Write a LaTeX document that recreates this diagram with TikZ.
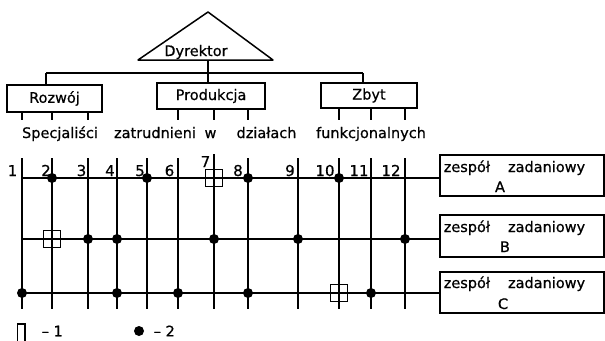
\documentclass[tikz,border=0pt]{standalone}
\usepackage{fontspec}
\setmainfont{DejaVu Sans}[FakeBold=0.6]
\begin{document}
\begin{tikzpicture}[x=1pt,y=-1pt,line width=1.5pt,
  lbl/.style={font=\fontsize{14.5}{16}\selectfont,inner sep=0pt},
  numlbl/.style={font=\fontsize{15}{16}\selectfont,inner sep=0pt},
  orgbox/.style={draw,rectangle,inner sep=0pt,font=\fontsize{14.5}{16}\selectfont},
  teambox/.style={draw,rectangle,inner sep=0pt,minimum width=164pt},
  dotmark/.style={circle,fill=black,draw=none,inner sep=0pt,minimum size=10pt},
  sqmark/.style={draw,rectangle,fill=none,inner sep=0pt,minimum size=17pt,line width=1.3pt}]
\useasboundingbox (0,0) rectangle (605,340);
\clip (0,0) rectangle (605,340);

% director
\coordinate (dirL) at (138,60);
\coordinate (dirR) at (273,60);
\coordinate (dirT) at (208,12);
\coordinate (dirB) at (208,60);
\draw[line join=round] (dirL) -- (dirT) -- (dirR) -- cycle;
\node[lbl,anchor=base] (dir) at (196,56) {Dyrektor};

% distribution bar
\coordinate (barL) at (46,73);
\coordinate (barM) at (208,73);
\coordinate (barR) at (363,73);
\draw (barL) -- (barR);
\draw (dirB) -- (barM);

% departments
\node[orgbox,minimum width=95pt,minimum height=27pt] (rozwoj) at (54.5,98.5) {Rozwój};
\node[orgbox,minimum width=108pt,minimum height=26pt] (produkcja) at (211,96) {Produkcja};
\node[orgbox,minimum width=96pt,minimum height=25pt] (zbyt) at (369,95.5) {Zbyt};
\draw (barL) -- (barL |- rozwoj.north);
\draw (barM) -- (barM |- produkcja.north);
\draw (barR) -- (barR |- zbyt.north);

% specialists columns
\foreach \i/\x in {1/22,2/52,3/88,4/117,5/147,6/178,8/248,9/298,10/339,11/371,12/405}{
  \coordinate (t\i) at (\x,158);
  \coordinate (b\i) at (\x,309);
}
\coordinate (t7) at (214,154);
\coordinate (b7) at (214,309);
\foreach \i in {1,...,12} \draw (t\i) -- (b\i);

% short ticks below the departments
\coordinate (tickY) at (0,120);
\foreach \i in {1,2,3} \draw (rozwoj.south -| t\i) -- (t\i |- tickY);
\foreach \i in {6,7,8} \draw (produkcja.south -| t\i) -- (t\i |- tickY);
\foreach \i in {10,11,12} \draw (zbyt.south -| t\i) -- (t\i |- tickY);

% caption line
\node[lbl,anchor=base] (w1) at (60,138) {Specjaliści};
\node[lbl,anchor=base] (w2) at (155,138) {zatrudnieni};
\node[lbl,anchor=base] (w3) at (210.5,138) {w};
\node[lbl,anchor=base] (w4) at (266.5,138) {działach};
\node[lbl,anchor=base] (w5) at (371,138) {funkcjonalnych};

% column numbers
\foreach \i/\x in {1/12.5,2/46,3/81.5,4/110,5/140,6/169.5,8/238,9/290,10/325,11/359,12/391}
  \node[numlbl,anchor=base] (n\i) at (\x,176) {\i};
\node[numlbl,anchor=base] (n7) at (205.5,167) {7};

% task teams
\node[teambox,minimum height=41pt] (teamA) at (522,175.5) {};
\node[teambox,minimum height=42pt] (teamB) at (522,236) {};
\node[teambox,minimum height=41pt] (teamC) at (522,292.5) {};
\node[lbl,anchor=base west] (tA) at (443,172) {zespół\hspace{18pt}zadaniowy};
\node[lbl,anchor=base] (lA) at (500,192) {A};
\node[lbl,anchor=base west] (tB) at (443,232) {zespół\hspace{18pt}zadaniowy};
\node[lbl,anchor=base] (lB) at (505,252) {B};
\node[lbl,anchor=base west] (tC) at (443,288) {zespół\hspace{18pt}zadaniowy};
\node[lbl,anchor=base] (lC) at (503,309) {C};

% rows
\coordinate (rowA) at (22,178);
\coordinate (rowB) at (22,239);
\coordinate (rowC) at (22,293);
\draw (rowA) -- (rowA -| teamA.west);
\draw (rowB) -- (rowB -| teamB.west);
\draw (rowC) -- (rowC -| teamC.west);

% memberships
\foreach \i in {2,5,8,10} \node[dotmark] (mA\i) at (t\i |- rowA) {};
\node[sqmark] (sA7) at (t7 |- rowA) {};
\foreach \i in {3,4,7,9,12} \node[dotmark] (mB\i) at (t\i |- rowB) {};
\node[sqmark] (sB2) at (t2 |- rowB) {};
\foreach \i in {1,4,6,8,11} \node[dotmark] (mC\i) at (t\i |- rowC) {};
\node[sqmark] (sC10) at (t10 |- rowC) {};

% legend
\node[draw,rectangle,inner sep=0pt,minimum width=7.5pt,minimum height=26pt,line width=1.3pt] (legsq) at (21.25,337) {};
\node[lbl,anchor=west] (leg1) at (41,331) {– 1};
\node[dotmark] (legdot) at (139,331) {};
\node[lbl,anchor=west] (leg2) at (153,331) {– 2};
\end{tikzpicture}
\end{document}
